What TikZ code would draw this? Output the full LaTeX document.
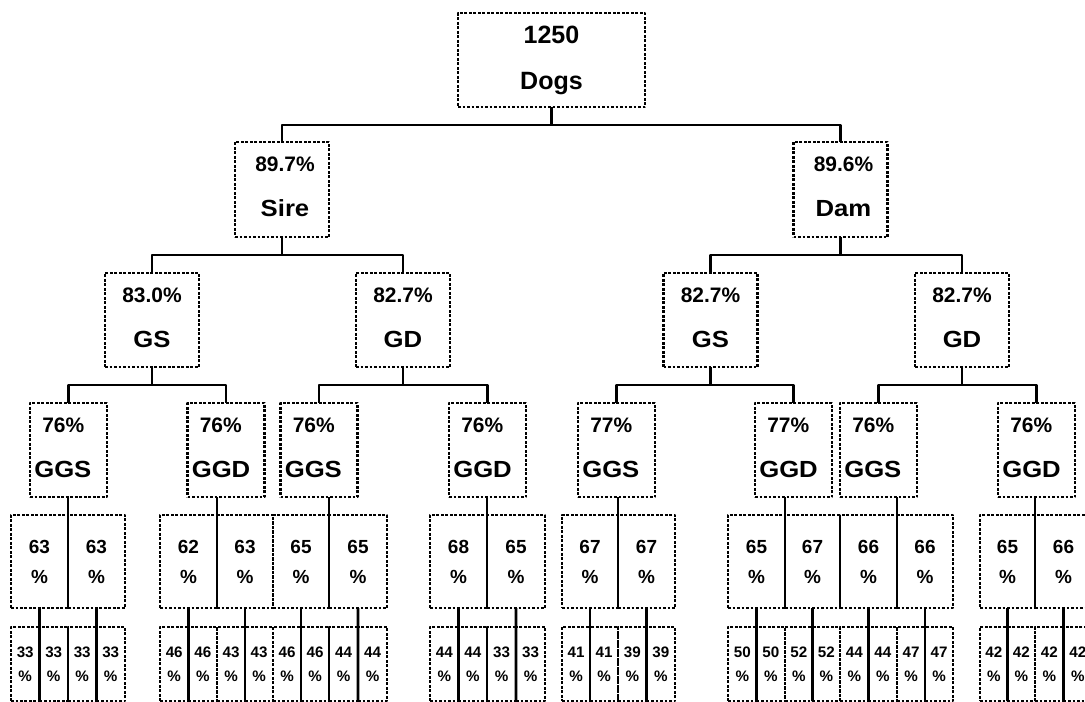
\documentclass[tikz,border=0pt]{standalone}
\usepackage{fontspec}
\setmainfont{Liberation Sans}
\newfontfamily\labfont[FakeStretch=1.1]{Liberation Sans}
\usetikzlibrary{calc}

\tikzset{
  dotbox/.style={draw, line width=1.9pt, dash pattern=on 1.9pt off 1.3pt, inner sep=0pt, outer sep=0pt},
  cell/.style 2 args={dotbox, minimum width=(#1)*0.025cm, minimum height=(#2)*0.025cm},
  conn/.style={line width=1.8pt},
  bigtxt/.style={font=\bfseries\fontsize{17.8pt}{20pt}\selectfont, inner sep=0pt},
  pct/.style={font=\bfseries\fontsize{14.9pt}{18pt}\selectfont, inner sep=0pt},
  lab/.style={font=\labfont\bfseries\fontsize{16.6pt}{20pt}\selectfont, inner sep=0pt},
  pairtxt/.style={align=center, font=\bfseries\fontsize{13.5pt}{21.3pt}\selectfont},
  leaftxt/.style={align=center, font=\bfseries\fontsize{10.8pt}{17pt}\selectfont}
}

\begin{document}
\begin{tikzpicture}[x=0.025cm, y=-0.025cm, line join=round]
\useasboundingbox (0,0) rectangle (1085,702);

% root
\node[cell={187}{94}] (root) at (551.5,60) {};
\node[bigtxt, anchor=base] (root-n) at ($(root.center)+(0,-16.5)$) {1250};
\node[bigtxt, anchor=base] (root-l) at ($(root.center)+(0,30)$) {Dogs};

% parents
\foreach \nm/\xx/\pc/\lb in {sire/282/89.7/Sire, dam/840.5/89.6/Dam}{
  \node[cell={94}{95}] (\nm) at (\xx,189.5) {};
  \node[pct, anchor=base] (\nm-p) at ($(\nm.center)+(3,-17.5)$) {\pc\%};
  \node[lab, anchor=base] (\nm-l) at ($(\nm.center)+(3,27)$) {\lb};
  \draw[conn] (root.south) -- ++(0,18) -| (\nm.north);
}

% grandparents
\foreach \nm/\xx/\pc/\lb/\up in {gs1/152/83.0/GS/sire, gd1/403/82.7/GD/sire,
    gs2/710.5/82.7/GS/dam, gd2/962/82.7/GD/dam}{
  \node[cell={94}{94}] (\nm) at (\xx,320) {};
  \node[pct, anchor=base] (\nm-p) at ($(\nm.center)+(0,-17.5)$) {\pc\%};
  \node[lab, anchor=base] (\nm-l) at ($(\nm.center)+(0,27)$) {\lb};
  \draw[conn] (\up.south) -- ++(0,18) -| (\nm.north);
}

% great-grandparents
\foreach \nm/\xx/\pc/\lb/\up in {ggs1/68.5/76/GGS/gs1, ggd1/226/76/GGD/gs1,
    ggs2/319/76/GGS/gd1, ggd2/487.5/76/GGD/gd1, ggs3/616.5/77/GGS/gs2,
    ggd3/793.5/77/GGD/gs2, ggs4/878.5/76/GGS/gd2, ggd4/1036.5/76/GGD/gd2}{
  \node[cell={77}{94}] (\nm) at (\xx,450) {};
  \node[pct, anchor=base west] (\nm-p) at ($(\nm.west)+(12,-17.5)$) {\pc\%};
  \node[lab, anchor=base west] (\nm-l) at ($(\nm.west)+(4,27)$) {\lb};
  \draw[conn] (\up.south) -- ++(0,18) -| (\nm.north);
}

% two rows below each great-grandparent
\foreach \nm/\xl/\xd/\xr/\pa/\pb/\qa/\qb/\qc/\qd in {
    ggs1/11/68/125/63/63/33/33/33/33,
    ggd1/160/217/273/62/63/46/46/43/43,
    ggs2/273/329/387/65/65/46/46/44/44,
    ggd2/430/487/545/68/65/44/44/33/33,
    ggs3/562/618/675/67/67/41/41/39/39,
    ggd3/728/785/840/65/67/50/50/52/52,
    ggs4/840/897/953/66/66/44/44/47/47,
    ggd4/980/1035/1092/65/66/42/42/42/42}{
  \pgfmathsetmacro\ma{(\xl+\xd)/2}
  \pgfmathsetmacro\mb{(\xd+\xr)/2}
  \node[cell={\xd-\xl}{93}, pairtxt] (\nm-a) at (\ma,561.5) {\pa\\\%};
  \node[cell={\xr-\xd}{93}, pairtxt] (\nm-b) at (\mb,561.5) {\pb\\\%};
  \node[cell={\ma-\xl}{74}, leaftxt] (\nm-a1) at ({(\xl+\ma)/2},664) {\qa\\\%};
  \node[cell={\xd-\ma}{74}, leaftxt] (\nm-a2) at ({(\ma+\xd)/2},664) {\qb\\\%};
  \node[cell={\mb-\xd}{74}, leaftxt] (\nm-b1) at ({(\xd+\mb)/2},664) {\qc\\\%};
  \node[cell={\xr-\mb}{74}, leaftxt] (\nm-b2) at ({(\mb+\xr)/2},664) {\qd\\\%};
  \draw[conn] (\nm.south -| \nm-a.east) -- (\nm-a.south east);
  \draw[conn] (\nm-a.south) -- (\nm-a1.south east);
  \draw[conn] (\nm-b.south) -- (\nm-b1.south east);
}
\end{tikzpicture}
\end{document}
